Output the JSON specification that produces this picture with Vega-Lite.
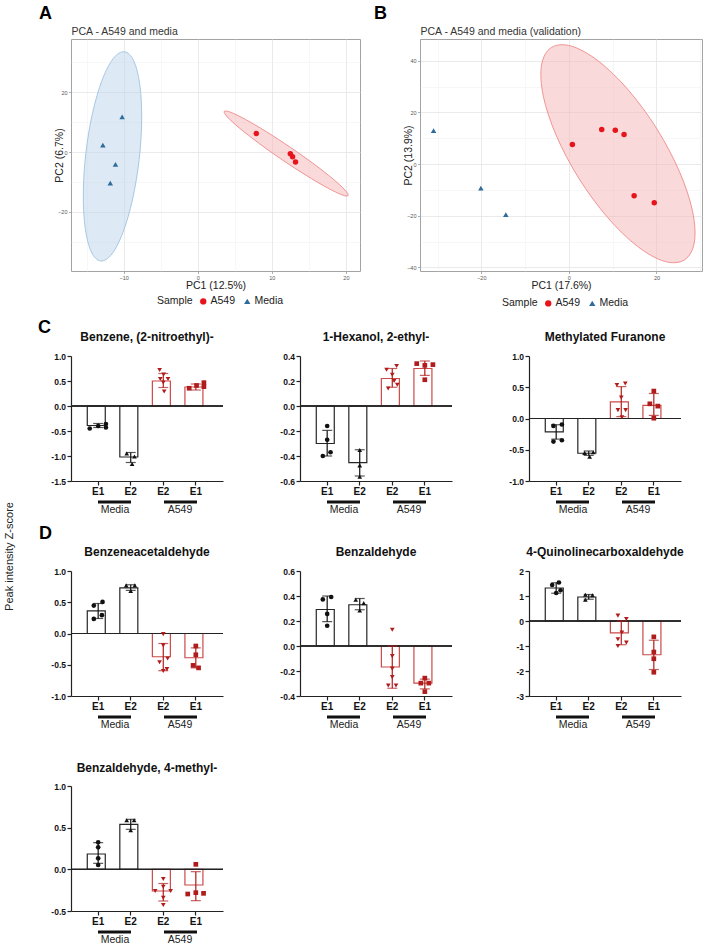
{
"$schema":"https://vega.github.io/schema/vega-lite/v6.json",
"background":"white",
"padding":{"left":3,"top":4,"right":2,"bottom":0},
"config":{"font":"Liberation Sans","view":{"stroke":null}},
"datasets":{
"pca":[
{"pc":"A","s":"A549","x":7.9,"y":6.2},{"pc":"A","s":"A549","x":12.5,"y":-0.6},{"pc":"A","s":"A549","x":12.8,"y":-1.6},{"pc":"A","s":"A549","x":13.2,"y":-3.3},
{"pc":"A","s":"Media","x":-10.2,"y":11.7},{"pc":"A","s":"Media","x":-12.8,"y":2.3},{"pc":"A","s":"Media","x":-11.1,"y":-4.1},{"pc":"A","s":"Media","x":-11.8,"y":-10.4},
{"pc":"B","s":"A549","x":0.8,"y":7.6},{"pc":"B","s":"A549","x":7.5,"y":13.4},{"pc":"B","s":"A549","x":10.6,"y":13.1},{"pc":"B","s":"A549","x":12.6,"y":11.4},{"pc":"B","s":"A549","x":14.9,"y":-12.3},{"pc":"B","s":"A549","x":19.5,"y":-15.0},
{"pc":"B","s":"Media","x":-30.9,"y":12.9},{"pc":"B","s":"Media","x":-20.1,"y":-9.3},{"pc":"B","s":"Media","x":-14.4,"y":-19.6}
],
"ell":[
{"pc":"A","s":"Media","i":0,"x":-9.9,"y":33.45},{"pc":"A","s":"Media","i":1,"x":-8.64,"y":30.42},{"pc":"A","s":"Media","i":2,"x":-7.82,"y":22.51},{"pc":"A","s":"Media","i":3,"x":-7.56,"y":11.0},
{"pc":"A","s":"Media","i":4,"x":-7.9,"y":-2.45},{"pc":"A","s":"Media","i":5,"x":-8.79,"y":-15.74},{"pc":"A","s":"Media","i":6,"x":-10.09,"y":-26.83},{"pc":"A","s":"Media","i":7,"x":-11.6,"y":-34.08},
{"pc":"A","s":"Media","i":8,"x":-13.1,"y":-36.35},{"pc":"A","s":"Media","i":9,"x":-14.36,"y":-33.32},{"pc":"A","s":"Media","i":10,"x":-15.18,"y":-25.41},{"pc":"A","s":"Media","i":11,"x":-15.44,"y":-13.9},
{"pc":"A","s":"Media","i":12,"x":-15.1,"y":-0.45},{"pc":"A","s":"Media","i":13,"x":-14.21,"y":12.84},{"pc":"A","s":"Media","i":14,"x":-12.91,"y":23.93},{"pc":"A","s":"Media","i":15,"x":-11.4,"y":31.18},
{"pc":"A","s":"A549","i":0,"x":3.58,"y":13.55},{"pc":"A","s":"A549","i":1,"x":4.44,"y":13.27},{"pc":"A","s":"A549","i":2,"x":6.43,"y":10.88},{"pc":"A","s":"A549","i":3,"x":9.27,"y":6.77},
{"pc":"A","s":"A549","i":4,"x":12.51,"y":1.55},{"pc":"A","s":"A549","i":5,"x":15.67,"y":-3.99},{"pc":"A","s":"A549","i":6,"x":18.25,"y":-8.98},{"pc":"A","s":"A549","i":7,"x":19.88,"y":-12.7},
{"pc":"A","s":"A549","i":8,"x":20.3,"y":-14.55},{"pc":"A","s":"A549","i":9,"x":19.44,"y":-14.27},{"pc":"A","s":"A549","i":10,"x":17.45,"y":-11.88},{"pc":"A","s":"A549","i":11,"x":14.61,"y":-7.77},
{"pc":"A","s":"A549","i":12,"x":11.37,"y":-2.55},{"pc":"A","s":"A549","i":13,"x":8.21,"y":2.99},{"pc":"A","s":"A549","i":14,"x":5.63,"y":7.98},{"pc":"A","s":"A549","i":15,"x":4.0,"y":11.7},
{"pc":"B","s":"A549","i":0,"x":26.4,"y":-37.1},{"pc":"B","s":"A549","i":1,"x":28.65,"y":-30.3},{"pc":"B","s":"A549","i":2,"x":28.24,"y":-18.27},{"pc":"B","s":"A549","i":3,"x":25.24,"y":-2.87},
{"pc":"B","s":"A549","i":4,"x":20.1,"y":13.6},{"pc":"B","s":"A549","i":5,"x":13.6,"y":28.61},{"pc":"B","s":"A549","i":6,"x":6.74,"y":39.85},{"pc":"B","s":"A549","i":7,"x":0.57,"y":45.66},
{"pc":"B","s":"A549","i":8,"x":-4.0,"y":45.1},{"pc":"B","s":"A549","i":9,"x":-6.25,"y":38.3},{"pc":"B","s":"A549","i":10,"x":-5.84,"y":26.27},{"pc":"B","s":"A549","i":11,"x":-2.84,"y":10.87},
{"pc":"B","s":"A549","i":12,"x":2.3,"y":-5.6},{"pc":"B","s":"A549","i":13,"x":8.8,"y":-20.61},{"pc":"B","s":"A549","i":14,"x":15.66,"y":-31.85},{"pc":"B","s":"A549","i":15,"x":21.83,"y":-37.66}
],
"grp":[{"g":"Media"},{"g":"A549"}],
"bars":[
{"p":"C1","c":"Media E1","g":"Media","m":-0.39,"lo":-0.43,"hi":-0.35},{"p":"C1","c":"Media E2","g":"Media","m":-1.02,"lo":-1.13,"hi":-0.93},{"p":"C1","c":"A549 E2","g":"A549","m":0.5,"lo":0.37,"hi":0.65},{"p":"C1","c":"A549 E1","g":"A549","m":0.38,"lo":0.32,"hi":0.44},
{"p":"C2","c":"Media E1","g":"Media","m":-0.3,"lo":-0.4,"hi":-0.195},{"p":"C2","c":"Media E2","g":"Media","m":-0.453,"lo":-0.56,"hi":-0.35},{"p":"C2","c":"A549 E2","g":"A549","m":0.22,"lo":0.15,"hi":0.3},{"p":"C2","c":"A549 E1","g":"A549","m":0.3,"lo":0.245,"hi":0.36},
{"p":"C3","c":"Media E1","g":"Media","m":-0.214,"lo":-0.33,"hi":-0.1},{"p":"C3","c":"Media E2","g":"Media","m":-0.556,"lo":-0.59,"hi":-0.52},{"p":"C3","c":"A549 E2","g":"A549","m":0.267,"lo":0.03,"hi":0.51},{"p":"C3","c":"A549 E1","g":"A549","m":0.209,"lo":0.05,"hi":0.4},
{"p":"D1","c":"Media E1","g":"Media","m":0.362,"lo":0.24,"hi":0.48},{"p":"D1","c":"Media E2","g":"Media","m":0.73,"lo":0.69,"hi":0.78},{"p":"D1","c":"A549 E2","g":"A549","m":-0.372,"lo":-0.595,"hi":-0.16},{"p":"D1","c":"A549 E1","g":"A549","m":-0.388,"lo":-0.55,"hi":-0.23},
{"p":"D2","c":"Media E1","g":"Media","m":0.292,"lo":0.195,"hi":0.4},{"p":"D2","c":"Media E2","g":"Media","m":0.33,"lo":0.29,"hi":0.38},{"p":"D2","c":"A549 E2","g":"A549","m":-0.168,"lo":-0.338,"hi":0.0},{"p":"D2","c":"A549 E1","g":"A549","m":-0.297,"lo":-0.343,"hi":-0.265},
{"p":"D3","c":"Media E1","g":"Media","m":1.32,"lo":1.11,"hi":1.53},{"p":"D3","c":"Media E2","g":"Media","m":0.96,"lo":0.87,"hi":1.06},{"p":"D3","c":"A549 E2","g":"A549","m":-0.473,"lo":-0.95,"hi":0.0},{"p":"D3","c":"A549 E1","g":"A549","m":-1.35,"lo":-1.94,"hi":-0.77},
{"p":"D4","c":"Media E1","g":"Media","m":0.184,"lo":0.072,"hi":0.32},{"p":"D4","c":"Media E2","g":"Media","m":0.54,"lo":0.48,"hi":0.6},{"p":"D4","c":"A549 E2","g":"A549","m":-0.26,"lo":-0.38,"hi":-0.17},{"p":"D4","c":"A549 E1","g":"A549","m":-0.188,"lo":-0.376,"hi":-0.028}
],
"pts":[
{"p":"C1","c":"Media E1","g":"Media","v":-0.45,"d":-0.93},{"p":"C1","c":"Media E1","g":"Media","v":-0.4,"d":0},{"p":"C1","c":"Media E1","g":"Media","v":-0.36,"d":0.85},{"p":"C1","c":"Media E1","g":"Media","v":-0.43,"d":0.85},
{"p":"C1","c":"Media E2","g":"Media","v":-0.95,"d":-0.44},{"p":"C1","c":"Media E2","g":"Media","v":-1.01,"d":0.41},{"p":"C1","c":"Media E2","g":"Media","v":-1.16,"d":0.15},
{"p":"C1","c":"A549 E2","g":"A549","v":0.72,"d":-0.4},{"p":"C1","c":"A549 E2","g":"A549","v":0.63,"d":0.04},{"p":"C1","c":"A549 E2","g":"A549","v":0.54,"d":-0.33},{"p":"C1","c":"A549 E2","g":"A549","v":0.54,"d":0.52},{"p":"C1","c":"A549 E2","g":"A549","v":0.47,"d":0},{"p":"C1","c":"A549 E2","g":"A549","v":0.29,"d":0.1},
{"p":"C1","c":"A549 E1","g":"A549","v":0.355,"d":-0.73},{"p":"C1","c":"A549 E1","g":"A549","v":0.41,"d":0.08},{"p":"C1","c":"A549 E1","g":"A549","v":0.467,"d":0.89},{"p":"C1","c":"A549 E1","g":"A549","v":0.387,"d":0.89},
{"p":"C2","c":"Media E1","g":"Media","v":-0.16,"d":0},{"p":"C2","c":"Media E1","g":"Media","v":-0.27,"d":0},{"p":"C2","c":"Media E1","g":"Media","v":-0.37,"d":0.37},{"p":"C2","c":"Media E1","g":"Media","v":-0.4,"d":-0.48},
{"p":"C2","c":"Media E2","g":"Media","v":-0.352,"d":0},{"p":"C2","c":"Media E2","g":"Media","v":-0.475,"d":0},{"p":"C2","c":"Media E2","g":"Media","v":-0.565,"d":0},
{"p":"C2","c":"A549 E2","g":"A549","v":0.29,"d":-0.63},{"p":"C2","c":"A549 E2","g":"A549","v":0.32,"d":0.48},{"p":"C2","c":"A549 E2","g":"A549","v":0.25,"d":0},{"p":"C2","c":"A549 E2","g":"A549","v":0.17,"d":0.55},{"p":"C2","c":"A549 E2","g":"A549","v":0.14,"d":-0.45},{"p":"C2","c":"A549 E2","g":"A549","v":0.2,"d":0.2},
{"p":"C2","c":"A549 E1","g":"A549","v":0.339,"d":-0.89},{"p":"C2","c":"A549 E1","g":"A549","v":0.325,"d":0},{"p":"C2","c":"A549 E1","g":"A549","v":0.331,"d":0.89},{"p":"C2","c":"A549 E1","g":"A549","v":0.21,"d":0},
{"p":"C3","c":"Media E1","g":"Media","v":-0.118,"d":-0.3},{"p":"C3","c":"Media E1","g":"Media","v":-0.096,"d":0.63},{"p":"C3","c":"Media E1","g":"Media","v":-0.369,"d":-0.3},{"p":"C3","c":"Media E1","g":"Media","v":-0.348,"d":0.63},
{"p":"C3","c":"Media E2","g":"Media","v":-0.55,"d":-0.45},{"p":"C3","c":"Media E2","g":"Media","v":-0.61,"d":0.1},{"p":"C3","c":"Media E2","g":"Media","v":-0.54,"d":0.5},
{"p":"C3","c":"A549 E2","g":"A549","v":0.535,"d":-0.48},{"p":"C3","c":"A549 E2","g":"A549","v":0.56,"d":0.44},{"p":"C3","c":"A549 E2","g":"A549","v":0.337,"d":0},{"p":"C3","c":"A549 E2","g":"A549","v":0.134,"d":-0.37},{"p":"C3","c":"A549 E2","g":"A549","v":0.134,"d":0.48},{"p":"C3","c":"A549 E2","g":"A549","v":0.02,"d":0.07},
{"p":"C3","c":"A549 E1","g":"A549","v":0.439,"d":0},{"p":"C3","c":"A549 E1","g":"A549","v":0.235,"d":-0.44},{"p":"C3","c":"A549 E1","g":"A549","v":0.198,"d":0.44},{"p":"C3","c":"A549 E1","g":"A549","v":0.005,"d":0},
{"p":"D1","c":"Media E1","g":"Media","v":0.505,"d":0.48},{"p":"D1","c":"Media E1","g":"Media","v":0.447,"d":-0.48},{"p":"D1","c":"Media E1","g":"Media","v":0.293,"d":0.41},{"p":"D1","c":"Media E1","g":"Media","v":0.234,"d":-0.48},
{"p":"D1","c":"Media E2","g":"Media","v":0.77,"d":-0.5},{"p":"D1","c":"Media E2","g":"Media","v":0.77,"d":0.45},{"p":"D1","c":"Media E2","g":"Media","v":0.68,"d":0},
{"p":"D1","c":"A549 E2","g":"A549","v":-0.01,"d":0},{"p":"D1","c":"A549 E2","g":"A549","v":-0.19,"d":0},{"p":"D1","c":"A549 E2","g":"A549","v":-0.4,"d":0.48},{"p":"D1","c":"A549 E2","g":"A549","v":-0.46,"d":-0.41},{"p":"D1","c":"A549 E2","g":"A549","v":-0.57,"d":0.4},{"p":"D1","c":"A549 E2","g":"A549","v":-0.6,"d":0},
{"p":"D1","c":"A549 E1","g":"A549","v":-0.2,"d":0},{"p":"D1","c":"A549 E1","g":"A549","v":-0.34,"d":0},{"p":"D1","c":"A549 E1","g":"A549","v":-0.51,"d":-0.3},{"p":"D1","c":"A549 E1","g":"A549","v":-0.55,"d":0.3},
{"p":"D2","c":"Media E1","g":"Media","v":0.373,"d":-0.48},{"p":"D2","c":"Media E1","g":"Media","v":0.392,"d":0.44},{"p":"D2","c":"Media E1","g":"Media","v":0.257,"d":0},{"p":"D2","c":"Media E1","g":"Media","v":0.162,"d":0},
{"p":"D2","c":"Media E2","g":"Media","v":0.37,"d":-0.44},{"p":"D2","c":"Media E2","g":"Media","v":0.343,"d":0.44},{"p":"D2","c":"Media E2","g":"Media","v":0.284,"d":0},
{"p":"D2","c":"A549 E2","g":"A549","v":0.13,"d":0},{"p":"D2","c":"A549 E2","g":"A549","v":-0.081,"d":0},{"p":"D2","c":"A549 E2","g":"A549","v":-0.181,"d":0},{"p":"D2","c":"A549 E2","g":"A549","v":-0.249,"d":0},{"p":"D2","c":"A549 E2","g":"A549","v":-0.316,"d":-0.44},{"p":"D2","c":"A549 E2","g":"A549","v":-0.316,"d":0.41},
{"p":"D2","c":"A549 E1","g":"A549","v":-0.257,"d":0},{"p":"D2","c":"A549 E1","g":"A549","v":-0.297,"d":-0.44},{"p":"D2","c":"A549 E1","g":"A549","v":-0.297,"d":0.44},{"p":"D2","c":"A549 E1","g":"A549","v":-0.365,"d":0},
{"p":"D3","c":"Media E1","g":"Media","v":1.54,"d":0.3},{"p":"D3","c":"Media E1","g":"Media","v":1.44,"d":-0.44},{"p":"D3","c":"Media E1","g":"Media","v":1.23,"d":0.48},{"p":"D3","c":"Media E1","g":"Media","v":1.12,"d":0},
{"p":"D3","c":"Media E2","g":"Media","v":1.05,"d":-0.37},{"p":"D3","c":"Media E2","g":"Media","v":1.03,"d":0.41},{"p":"D3","c":"Media E2","g":"Media","v":0.85,"d":-0.37},
{"p":"D3","c":"A549 E2","g":"A549","v":0.216,"d":-0.37},{"p":"D3","c":"A549 E2","g":"A549","v":0.08,"d":0.56},{"p":"D3","c":"A549 E2","g":"A549","v":-0.46,"d":0.07},{"p":"D3","c":"A549 E2","g":"A549","v":-0.73,"d":-0.37},{"p":"D3","c":"A549 E2","g":"A549","v":-0.865,"d":0.56},{"p":"D3","c":"A549 E2","g":"A549","v":-1.0,"d":-0.37},
{"p":"D3","c":"A549 E1","g":"A549","v":-0.635,"d":0},{"p":"D3","c":"A549 E1","g":"A549","v":-1.24,"d":0},{"p":"D3","c":"A549 E1","g":"A549","v":-1.51,"d":0},{"p":"D3","c":"A549 E1","g":"A549","v":-2.05,"d":0},
{"p":"D4","c":"Media E1","g":"Media","v":0.324,"d":0},{"p":"D4","c":"Media E1","g":"Media","v":0.264,"d":0},{"p":"D4","c":"Media E1","g":"Media","v":0.132,"d":0},{"p":"D4","c":"Media E1","g":"Media","v":0.052,"d":0},
{"p":"D4","c":"Media E2","g":"Media","v":0.59,"d":-0.44},{"p":"D4","c":"Media E2","g":"Media","v":0.59,"d":0.37},{"p":"D4","c":"Media E2","g":"Media","v":0.47,"d":0},
{"p":"D4","c":"A549 E2","g":"A549","v":-0.116,"d":0},{"p":"D4","c":"A549 E2","g":"A549","v":-0.208,"d":0},{"p":"D4","c":"A549 E2","g":"A549","v":-0.26,"d":-0.89},{"p":"D4","c":"A549 E2","g":"A549","v":-0.26,"d":0.81},{"p":"D4","c":"A549 E2","g":"A549","v":-0.34,"d":0},{"p":"D4","c":"A549 E2","g":"A549","v":-0.428,"d":0},
{"p":"D4","c":"A549 E1","g":"A549","v":0.06,"d":0},{"p":"D4","c":"A549 E1","g":"A549","v":-0.296,"d":-0.89},{"p":"D4","c":"A549 E1","g":"A549","v":-0.28,"d":0},{"p":"D4","c":"A549 E1","g":"A549","v":-0.288,"d":0.85}
]
},
"spacing":8,
"vconcat":[
{"hconcat":[
{"width":289,"height":232,"view":{"stroke":"#a3a3a3","strokeWidth":1},
 "title":{"text":"A","anchor":"start","frame":"group","dx":-32,"fontSize":18,"fontWeight":"bold","color":"#000","offset":3},
 "layer":[
  {"data":{"name":"ell"},"transform":[{"filter":"datum.pc == 'A' && datum.s == 'Media'"}],
   "mark":{"type":"line","interpolate":"cardinal-closed","strokeWidth":0.9,"fill":"#bcd6ec","fillOpacity":0.5,"stroke":"#9fc2df"},
   "encoding":{
    "x":{"field":"x","type":"quantitative","scale":{"domain":[-17.1,21.9],"nice":false,"zero":false},"axis":{"orient":"bottom","values":[-10,0,10,20],"tickCount":10,"grid":true,"gridColor":"#e4e4e4","gridWidth":0.8,"domain":false,"tickSize":2.5,"tickColor":"#777","tickWidth":0.6,"labelFontSize":5.5,"labelColor":"#555","labelPadding":1.5,"title":"PC1 (12.5%)","titleFontSize":10.5,"titleFontWeight":"normal","titleColor":"#222","titlePadding":0}},
    "y":{"field":"y","type":"quantitative","scale":{"domain":[-39.7,37.7],"nice":false,"zero":false},"axis":{"orient":"left","values":[-20,0,20],"tickCount":10,"grid":true,"gridColor":"#e4e4e4","gridWidth":0.8,"domain":false,"tickSize":2.5,"tickColor":"#777","tickWidth":0.6,"labelFontSize":5.5,"labelColor":"#555","labelPadding":1.5,"title":"PC2 (6.7%)","titleFontSize":10.5,"titleFontWeight":"normal","titleColor":"#222","titlePadding":-7}},
    "order":{"field":"i","type":"quantitative"}
   }},
  {"data":{"name":"ell"},"transform":[{"filter":"datum.pc == 'A' && datum.s == 'A549'"}],
   "mark":{"type":"line","interpolate":"cardinal-closed","strokeWidth":0.9,"fill":"#f3b3b3","fillOpacity":0.5,"stroke":"#ee8a8a"},
   "encoding":{
    "x":{"field":"x","type":"quantitative","axis":null},
    "y":{"field":"y","type":"quantitative","axis":null},
    "order":{"field":"i","type":"quantitative"}
   }},
  {"data":{"name":"pca"},"transform":[{"filter":{"field":"pc","equal":"A"}}],
   "mark":{"type":"point","filled":true,"size":30,"opacity":1},
   "encoding":{
    "x":{"field":"x","type":"quantitative","axis":{"orient":"top","values":[-15,-5,5,15],"tickCount":10,"grid":true,"gridColor":"#efefef","gridWidth":0.5,"domain":false,"ticks":false,"labels":false,"title":"PCA - A549 and media","titleAnchor":"start","titleFontSize":10.5,"titleFontWeight":"normal","titleColor":"#333","titlePadding":3}},
    "y":{"field":"y","type":"quantitative","axis":{"orient":"right","values":[-30,-10,10,30],"tickCount":10,"grid":true,"gridColor":"#efefef","gridWidth":0.5,"domain":false,"ticks":false,"labels":false,"title":null}},
    "color":{"field":"s","type":"nominal","title":"Sample","scale":{"domain":["A549","Media"],"range":["#e8141b","#2f6b9b"]},"legend":{"orient":"none","legendX":86,"legendY":257,"direction":"horizontal","titleOrient":"left","titleFontSize":10.5,"titleFontWeight":"normal","titleColor":"#222","labelFontSize":10.5,"labelColor":"#222","symbolSize":40,"titlePadding":5,"columnPadding":6,"labelOffset":2}},
    "shape":{"field":"s","type":"nominal","title":"Sample","scale":{"domain":["A549","Media"],"range":["circle","triangle-up"]},"legend":{"orient":"none","legendX":86,"legendY":257,"direction":"horizontal","titleOrient":"left","titleFontSize":10.5,"titleFontWeight":"normal","titleColor":"#222","labelFontSize":10.5,"labelColor":"#222","symbolSize":40,"titlePadding":5,"columnPadding":6,"labelOffset":2}}
   }}
 ],
 "resolve":{"axis":{"x":"independent","y":"independent"}}
},
{"width":282,"height":232,"view":{"stroke":"#a3a3a3","strokeWidth":1},
 "title":{"text":"B","anchor":"start","frame":"group","dx":-46,"fontSize":18,"fontWeight":"bold","color":"#000","offset":3},
 "layer":[
  {"data":{"name":"ell"},"transform":[{"filter":"datum.pc == 'B' && datum.s == 'A549'"}],
   "mark":{"type":"line","interpolate":"cardinal-closed","strokeWidth":0.9,"fill":"#f3b3b3","fillOpacity":0.5,"stroke":"#ee8a8a"},
   "encoding":{
    "x":{"field":"x","type":"quantitative","scale":{"domain":[-34.0,30.4],"nice":false,"zero":false},"axis":{"orient":"bottom","values":[-20,0,20],"tickCount":10,"grid":true,"gridColor":"#e4e4e4","gridWidth":0.8,"domain":false,"tickSize":2.5,"tickColor":"#777","tickWidth":0.6,"labelFontSize":5.5,"labelColor":"#555","labelPadding":1.5,"title":"PC1 (17.6%)","titleFontSize":10.5,"titleFontWeight":"normal","titleColor":"#222","titlePadding":0}},
    "y":{"field":"y","type":"quantitative","scale":{"domain":[-41.4,48.4],"nice":false,"zero":false},"axis":{"orient":"left","values":[-40,-20,0,20,40],"tickCount":10,"grid":true,"gridColor":"#e4e4e4","gridWidth":0.8,"domain":false,"tickSize":2.5,"tickColor":"#777","tickWidth":0.6,"labelFontSize":5.5,"labelColor":"#555","labelPadding":1.5,"title":"PC2 (13.9%)","titleFontSize":10.5,"titleFontWeight":"normal","titleColor":"#222","titlePadding":-7}},
    "order":{"field":"i","type":"quantitative"}
   }},
  {"data":{"name":"pca"},"transform":[{"filter":{"field":"pc","equal":"B"}}],
   "mark":{"type":"point","filled":true,"size":30,"opacity":1},
   "encoding":{
    "x":{"field":"x","type":"quantitative","axis":{"orient":"top","values":[-30,-10,10,30],"tickCount":10,"grid":true,"gridColor":"#efefef","gridWidth":0.5,"domain":false,"ticks":false,"labels":false,"title":"PCA - A549 and media (validation)","titleAnchor":"start","titleFontSize":10.5,"titleFontWeight":"normal","titleColor":"#333","titlePadding":3}},
    "y":{"field":"y","type":"quantitative","axis":{"orient":"right","values":[-30,-10,10,30],"tickCount":10,"grid":true,"gridColor":"#efefef","gridWidth":0.5,"domain":false,"ticks":false,"labels":false,"title":null}},
    "color":{"field":"s","type":"nominal","title":"Sample","scale":{"domain":["A549","Media"],"range":["#e8141b","#2f6b9b"]},"legend":{"orient":"none","legendX":82,"legendY":259,"direction":"horizontal","titleOrient":"left","titleFontSize":10.5,"titleFontWeight":"normal","titleColor":"#222","labelFontSize":10.5,"labelColor":"#222","symbolSize":40,"titlePadding":5,"columnPadding":6,"labelOffset":2}},
    "shape":{"field":"s","type":"nominal","title":"Sample","scale":{"domain":["A549","Media"],"range":["circle","triangle-up"]},"legend":{"orient":"none","legendX":82,"legendY":259,"direction":"horizontal","titleOrient":"left","titleFontSize":10.5,"titleFontWeight":"normal","titleColor":"#222","labelFontSize":10.5,"labelColor":"#222","symbolSize":40,"titlePadding":5,"columnPadding":6,"labelOffset":2}}
   }}
 ],
 "resolve":{"axis":{"x":"independent","y":"independent"}}
}
],"spacing":60,"bounds":"flush","resolve":{"scale":{"color":"independent","shape":"independent"}}},
{"concat":[
{"width":152,"height":125,"title":{"text":"Benzene, (2-nitroethyl)-","fontSize":12,"fontWeight":"bold","color":"#111","frame":"group","offset":-26},
 "layer":[
  {"layer":[
   {"data":{"name":"bars"},"transform":[{"filter":{"field":"p","equal":"C1"}}],"mark":{"type":"bar","fill":"#ffffff","strokeWidth":1.2},
    "encoding":{
     "x":{"field":"c","type":"nominal","scale":{"domain":["Media E1","Media E2","A549 E2","A549 E1"],"paddingInner":0.33,"paddingOuter":0.5},"axis":{"labelExpr":"split(datum.value,' ')[1]","labelAngle":0,"labelFontSize":10,"labelFontWeight":"bold","labelColor":"#111","labelPadding":1,"tickSize":4,"tickWidth":1.2,"tickColor":"#222","domainColor":"#222","domainWidth":1.2,"grid":false,"title":null}},
     "y":{"field":"m","type":"quantitative","title":"C","scale":{"domain":[-1.5,1],"nice":false,"zero":false},"axis":{"values":[-1.5,-1,-0.5,0,0.5,1],"tickCount":20,"labelOverlap":false,"labelExpr":"replace(format(datum.value,'.1f'),'\u2212','-')","labelFontSize":8.5,"labelFontWeight":"bold","labelColor":"#111","labelPadding":1.5,"tickSize":4,"tickWidth":1.2,"tickColor":"#222","domainColor":"#222","domainWidth":1.2,"grid":false,"title":"C","titleAngle":0,"titleX":-27,"titleY":-29,"titleFontSize":18,"titleFontWeight":"bold","titleColor":"#000","titleAlign":"center","titleBaseline":"middle"}},
     "y2":{"datum":0},
     "stroke":{"field":"g","type":"nominal","scale":{"domain":["Media","A549"],"range":["#262626","#cc4a4a"]},"legend":null}}},
   {"data":{"name":"bars"},"transform":[{"filter":{"field":"p","equal":"C1"}}],"mark":{"type":"rule","color":"#222","strokeWidth":1},"encoding":{"y":{"datum":0}}},
   {"data":{"name":"bars"},"transform":[{"filter":{"field":"p","equal":"C1"}}],"mark":{"type":"errorbar","ticks":true,"size":10,"thickness":1.2},
    "encoding":{"x":{"field":"c","type":"nominal"},"y":{"field":"lo","type":"quantitative","title":"C"},"y2":{"field":"hi"},"color":{"field":"g","type":"nominal","scale":{"domain":["Media","A549"],"range":["#111111","#b01c1c"]},"legend":null}}},
   {"data":{"name":"pts"},"transform":[{"filter":{"field":"p","equal":"C1"}}],"mark":{"type":"point","filled":true,"size":22,"opacity":1},
    "encoding":{"x":{"field":"c","type":"nominal"},"xOffset":{"field":"d","type":"quantitative","scale":{"domain":[-1.2,1.2]}},"y":{"field":"v","type":"quantitative","title":"C"},"color":{"field":"g","type":"nominal","legend":null},"shape":{"field":"c","type":"nominal","scale":{"domain":["Media E1","Media E2","A549 E2","A549 E1"],"range":["circle","triangle-up","triangle-down","square"]},"legend":null}}}
  ]},
  {"data":{"name":"grp"},"mark":{"type":"point","opacity":0},"encoding":{"x":{"field":"g","type":"nominal","scale":{"type":"point","domain":["Media","A549"],"padding":0.668},"axis":{"orient":"bottom","offset":19,"domain":false,"tickSize":3,"tickWidth":33,"tickColor":"#111","labelAngle":0,"labelFontSize":10.5,"labelColor":"#222","labelPadding":1,"grid":false,"title":null}}}}
 ],
 "resolve":{"scale":{"x":"independent"}}},
{"width":152,"height":125,"title":{"text":"1-Hexanol, 2-ethyl-","fontSize":12,"fontWeight":"bold","color":"#111","frame":"group","offset":8},
 "layer":[
  {"layer":[
   {"data":{"name":"bars"},"transform":[{"filter":{"field":"p","equal":"C2"}}],"mark":{"type":"bar","fill":"#ffffff","strokeWidth":1.2},
    "encoding":{
     "x":{"field":"c","type":"nominal","scale":{"domain":["Media E1","Media E2","A549 E2","A549 E1"],"paddingInner":0.33,"paddingOuter":0.5},"axis":{"labelExpr":"split(datum.value,' ')[1]","labelAngle":0,"labelFontSize":10,"labelFontWeight":"bold","labelColor":"#111","labelPadding":1,"tickSize":4,"tickWidth":1.2,"tickColor":"#222","domainColor":"#222","domainWidth":1.2,"grid":false,"title":null}},
     "y":{"field":"m","type":"quantitative","title":null,"scale":{"domain":[-0.6,0.4],"nice":false,"zero":false},"axis":{"values":[-0.6,-0.4,-0.2,0,0.2,0.4],"tickCount":20,"labelOverlap":false,"labelExpr":"replace(format(datum.value,'.1f'),'\u2212','-')","labelFontSize":8.5,"labelFontWeight":"bold","labelColor":"#111","labelPadding":1.5,"tickSize":4,"tickWidth":1.2,"tickColor":"#222","domainColor":"#222","domainWidth":1.2,"grid":false,"title":null}},
     "y2":{"datum":0},
     "stroke":{"field":"g","type":"nominal","scale":{"domain":["Media","A549"],"range":["#262626","#cc4a4a"]},"legend":null}}},
   {"data":{"name":"bars"},"transform":[{"filter":{"field":"p","equal":"C2"}}],"mark":{"type":"rule","color":"#222","strokeWidth":1},"encoding":{"y":{"datum":0}}},
   {"data":{"name":"bars"},"transform":[{"filter":{"field":"p","equal":"C2"}}],"mark":{"type":"errorbar","ticks":true,"size":10,"thickness":1.2},
    "encoding":{"x":{"field":"c","type":"nominal"},"y":{"field":"lo","type":"quantitative","title":null},"y2":{"field":"hi"},"color":{"field":"g","type":"nominal","scale":{"domain":["Media","A549"],"range":["#111111","#b01c1c"]},"legend":null}}},
   {"data":{"name":"pts"},"transform":[{"filter":{"field":"p","equal":"C2"}}],"mark":{"type":"point","filled":true,"size":22,"opacity":1},
    "encoding":{"x":{"field":"c","type":"nominal"},"xOffset":{"field":"d","type":"quantitative","scale":{"domain":[-1.2,1.2]}},"y":{"field":"v","type":"quantitative","title":null},"color":{"field":"g","type":"nominal","legend":null},"shape":{"field":"c","type":"nominal","scale":{"domain":["Media E1","Media E2","A549 E2","A549 E1"],"range":["circle","triangle-up","triangle-down","square"]},"legend":null}}}
  ]},
  {"data":{"name":"grp"},"mark":{"type":"point","opacity":0},"encoding":{"x":{"field":"g","type":"nominal","scale":{"type":"point","domain":["Media","A549"],"padding":0.668},"axis":{"orient":"bottom","offset":19,"domain":false,"tickSize":3,"tickWidth":33,"tickColor":"#111","labelAngle":0,"labelFontSize":10.5,"labelColor":"#222","labelPadding":1,"grid":false,"title":null}}}}
 ],
 "resolve":{"scale":{"x":"independent"}}},
{"width":152,"height":125,"title":{"text":"Methylated Furanone","fontSize":12,"fontWeight":"bold","color":"#111","frame":"group","offset":8},
 "layer":[
  {"layer":[
   {"data":{"name":"bars"},"transform":[{"filter":{"field":"p","equal":"C3"}}],"mark":{"type":"bar","fill":"#ffffff","strokeWidth":1.2},
    "encoding":{
     "x":{"field":"c","type":"nominal","scale":{"domain":["Media E1","Media E2","A549 E2","A549 E1"],"paddingInner":0.33,"paddingOuter":0.5},"axis":{"labelExpr":"split(datum.value,' ')[1]","labelAngle":0,"labelFontSize":10,"labelFontWeight":"bold","labelColor":"#111","labelPadding":1,"tickSize":4,"tickWidth":1.2,"tickColor":"#222","domainColor":"#222","domainWidth":1.2,"grid":false,"title":null}},
     "y":{"field":"m","type":"quantitative","title":null,"scale":{"domain":[-1,1],"nice":false,"zero":false},"axis":{"values":[-1,-0.5,0,0.5,1],"tickCount":20,"labelOverlap":false,"labelExpr":"replace(format(datum.value,'.1f'),'\u2212','-')","labelFontSize":8.5,"labelFontWeight":"bold","labelColor":"#111","labelPadding":1.5,"tickSize":4,"tickWidth":1.2,"tickColor":"#222","domainColor":"#222","domainWidth":1.2,"grid":false,"title":null}},
     "y2":{"datum":0},
     "stroke":{"field":"g","type":"nominal","scale":{"domain":["Media","A549"],"range":["#262626","#cc4a4a"]},"legend":null}}},
   {"data":{"name":"bars"},"transform":[{"filter":{"field":"p","equal":"C3"}}],"mark":{"type":"rule","color":"#222","strokeWidth":1},"encoding":{"y":{"datum":0}}},
   {"data":{"name":"bars"},"transform":[{"filter":{"field":"p","equal":"C3"}}],"mark":{"type":"errorbar","ticks":true,"size":10,"thickness":1.2},
    "encoding":{"x":{"field":"c","type":"nominal"},"y":{"field":"lo","type":"quantitative","title":null},"y2":{"field":"hi"},"color":{"field":"g","type":"nominal","scale":{"domain":["Media","A549"],"range":["#111111","#b01c1c"]},"legend":null}}},
   {"data":{"name":"pts"},"transform":[{"filter":{"field":"p","equal":"C3"}}],"mark":{"type":"point","filled":true,"size":22,"opacity":1},
    "encoding":{"x":{"field":"c","type":"nominal"},"xOffset":{"field":"d","type":"quantitative","scale":{"domain":[-1.2,1.2]}},"y":{"field":"v","type":"quantitative","title":null},"color":{"field":"g","type":"nominal","legend":null},"shape":{"field":"c","type":"nominal","scale":{"domain":["Media E1","Media E2","A549 E2","A549 E1"],"range":["circle","triangle-up","triangle-down","square"]},"legend":null}}}
  ]},
  {"data":{"name":"grp"},"mark":{"type":"point","opacity":0},"encoding":{"x":{"field":"g","type":"nominal","scale":{"type":"point","domain":["Media","A549"],"padding":0.668},"axis":{"orient":"bottom","offset":19,"domain":false,"tickSize":3,"tickWidth":33,"tickColor":"#111","labelAngle":0,"labelFontSize":10.5,"labelColor":"#222","labelPadding":1,"grid":false,"title":null}}}}
 ],
 "resolve":{"scale":{"x":"independent"}}},
{"width":152,"height":125,"title":{"text":"Benzeneacetaldehyde","fontSize":12,"fontWeight":"bold","color":"#111","frame":"group","offset":-35},
 "layer":[
  {"layer":[
   {"data":{"name":"bars"},"transform":[{"filter":{"field":"p","equal":"D1"}}],"mark":{"type":"bar","fill":"#ffffff","strokeWidth":1.2},
    "encoding":{
     "x":{"field":"c","type":"nominal","scale":{"domain":["Media E1","Media E2","A549 E2","A549 E1"],"paddingInner":0.33,"paddingOuter":0.5},"axis":{"labelExpr":"split(datum.value,' ')[1]","labelAngle":0,"labelFontSize":10,"labelFontWeight":"bold","labelColor":"#111","labelPadding":1,"tickSize":4,"tickWidth":1.2,"tickColor":"#222","domainColor":"#222","domainWidth":1.2,"grid":false,"title":null}},
     "y":{"field":"m","type":"quantitative","title":"D","scale":{"domain":[-1,1],"nice":false,"zero":false},"axis":{"values":[-1,-0.5,0,0.5,1],"tickCount":20,"labelOverlap":false,"labelExpr":"replace(format(datum.value,'.1f'),'\u2212','-')","labelFontSize":8.5,"labelFontWeight":"bold","labelColor":"#111","labelPadding":1.5,"tickSize":4,"tickWidth":1.2,"tickColor":"#222","domainColor":"#222","domainWidth":1.2,"grid":false,"title":"D","titleAngle":0,"titleX":-26,"titleY":-38,"titleFontSize":18,"titleFontWeight":"bold","titleColor":"#000","titleAlign":"center","titleBaseline":"middle"}},
     "y2":{"datum":0},
     "stroke":{"field":"g","type":"nominal","scale":{"domain":["Media","A549"],"range":["#262626","#cc4a4a"]},"legend":null}}},
   {"data":{"name":"bars"},"transform":[{"filter":{"field":"p","equal":"D1"}}],"mark":{"type":"rule","color":"#222","strokeWidth":1},"encoding":{"y":{"datum":0}}},
   {"data":{"name":"bars"},"transform":[{"filter":{"field":"p","equal":"D1"}}],"mark":{"type":"errorbar","ticks":true,"size":10,"thickness":1.2},
    "encoding":{"x":{"field":"c","type":"nominal"},"y":{"field":"lo","type":"quantitative","title":"D"},"y2":{"field":"hi"},"color":{"field":"g","type":"nominal","scale":{"domain":["Media","A549"],"range":["#111111","#b01c1c"]},"legend":null}}},
   {"data":{"name":"pts"},"transform":[{"filter":{"field":"p","equal":"D1"}}],"mark":{"type":"point","filled":true,"size":22,"opacity":1},
    "encoding":{"x":{"field":"c","type":"nominal"},"xOffset":{"field":"d","type":"quantitative","scale":{"domain":[-1.2,1.2]}},"y":{"field":"v","type":"quantitative","title":"D"},"color":{"field":"g","type":"nominal","legend":null},"shape":{"field":"c","type":"nominal","scale":{"domain":["Media E1","Media E2","A549 E2","A549 E1"],"range":["circle","triangle-up","triangle-down","square"]},"legend":null}}}
  ]},
  {"data":{"name":"grp"},"mark":{"type":"point","opacity":0},"encoding":{"x":{"field":"g","type":"nominal","scale":{"type":"point","domain":["Media","A549"],"padding":0.668},"axis":{"orient":"bottom","offset":19,"domain":false,"tickSize":3,"tickWidth":33,"tickColor":"#111","labelAngle":0,"labelFontSize":10.5,"labelColor":"#222","labelPadding":1,"grid":false,"title":null}}}}
 ],
 "resolve":{"scale":{"x":"independent"}}},
{"width":152,"height":125,"title":{"text":"Benzaldehyde","fontSize":12,"fontWeight":"bold","color":"#111","frame":"group","offset":8},
 "layer":[
  {"layer":[
   {"data":{"name":"bars"},"transform":[{"filter":{"field":"p","equal":"D2"}}],"mark":{"type":"bar","fill":"#ffffff","strokeWidth":1.2},
    "encoding":{
     "x":{"field":"c","type":"nominal","scale":{"domain":["Media E1","Media E2","A549 E2","A549 E1"],"paddingInner":0.33,"paddingOuter":0.5},"axis":{"labelExpr":"split(datum.value,' ')[1]","labelAngle":0,"labelFontSize":10,"labelFontWeight":"bold","labelColor":"#111","labelPadding":1,"tickSize":4,"tickWidth":1.2,"tickColor":"#222","domainColor":"#222","domainWidth":1.2,"grid":false,"title":null}},
     "y":{"field":"m","type":"quantitative","title":null,"scale":{"domain":[-0.4,0.6],"nice":false,"zero":false},"axis":{"values":[-0.4,-0.2,0,0.2,0.4,0.6],"tickCount":20,"labelOverlap":false,"labelExpr":"replace(format(datum.value,'.1f'),'\u2212','-')","labelFontSize":8.5,"labelFontWeight":"bold","labelColor":"#111","labelPadding":1.5,"tickSize":4,"tickWidth":1.2,"tickColor":"#222","domainColor":"#222","domainWidth":1.2,"grid":false,"title":null}},
     "y2":{"datum":0},
     "stroke":{"field":"g","type":"nominal","scale":{"domain":["Media","A549"],"range":["#262626","#cc4a4a"]},"legend":null}}},
   {"data":{"name":"bars"},"transform":[{"filter":{"field":"p","equal":"D2"}}],"mark":{"type":"rule","color":"#222","strokeWidth":1},"encoding":{"y":{"datum":0}}},
   {"data":{"name":"bars"},"transform":[{"filter":{"field":"p","equal":"D2"}}],"mark":{"type":"errorbar","ticks":true,"size":10,"thickness":1.2},
    "encoding":{"x":{"field":"c","type":"nominal"},"y":{"field":"lo","type":"quantitative","title":null},"y2":{"field":"hi"},"color":{"field":"g","type":"nominal","scale":{"domain":["Media","A549"],"range":["#111111","#b01c1c"]},"legend":null}}},
   {"data":{"name":"pts"},"transform":[{"filter":{"field":"p","equal":"D2"}}],"mark":{"type":"point","filled":true,"size":22,"opacity":1},
    "encoding":{"x":{"field":"c","type":"nominal"},"xOffset":{"field":"d","type":"quantitative","scale":{"domain":[-1.2,1.2]}},"y":{"field":"v","type":"quantitative","title":null},"color":{"field":"g","type":"nominal","legend":null},"shape":{"field":"c","type":"nominal","scale":{"domain":["Media E1","Media E2","A549 E2","A549 E1"],"range":["circle","triangle-up","triangle-down","square"]},"legend":null}}}
  ]},
  {"data":{"name":"grp"},"mark":{"type":"point","opacity":0},"encoding":{"x":{"field":"g","type":"nominal","scale":{"type":"point","domain":["Media","A549"],"padding":0.668},"axis":{"orient":"bottom","offset":19,"domain":false,"tickSize":3,"tickWidth":33,"tickColor":"#111","labelAngle":0,"labelFontSize":10.5,"labelColor":"#222","labelPadding":1,"grid":false,"title":null}}}}
 ],
 "resolve":{"scale":{"x":"independent"}}},
{"width":152,"height":125,"title":{"text":"4-Quinolinecarboxaldehyde","fontSize":12,"fontWeight":"bold","color":"#111","frame":"group","offset":8},
 "layer":[
  {"layer":[
   {"data":{"name":"bars"},"transform":[{"filter":{"field":"p","equal":"D3"}}],"mark":{"type":"bar","fill":"#ffffff","strokeWidth":1.2},
    "encoding":{
     "x":{"field":"c","type":"nominal","scale":{"domain":["Media E1","Media E2","A549 E2","A549 E1"],"paddingInner":0.33,"paddingOuter":0.5},"axis":{"labelExpr":"split(datum.value,' ')[1]","labelAngle":0,"labelFontSize":10,"labelFontWeight":"bold","labelColor":"#111","labelPadding":1,"tickSize":4,"tickWidth":1.2,"tickColor":"#222","domainColor":"#222","domainWidth":1.2,"grid":false,"title":null}},
     "y":{"field":"m","type":"quantitative","title":null,"scale":{"domain":[-3,2],"nice":false,"zero":false},"axis":{"values":[-3,-2,-1,0,1,2],"tickCount":20,"labelOverlap":false,"labelExpr":"replace(format(datum.value,'.0f'),'\u2212','-')","labelFontSize":8.5,"labelFontWeight":"bold","labelColor":"#111","labelPadding":1.5,"tickSize":4,"tickWidth":1.2,"tickColor":"#222","domainColor":"#222","domainWidth":1.2,"grid":false,"title":null}},
     "y2":{"datum":0},
     "stroke":{"field":"g","type":"nominal","scale":{"domain":["Media","A549"],"range":["#262626","#cc4a4a"]},"legend":null}}},
   {"data":{"name":"bars"},"transform":[{"filter":{"field":"p","equal":"D3"}}],"mark":{"type":"rule","color":"#222","strokeWidth":1},"encoding":{"y":{"datum":0}}},
   {"data":{"name":"bars"},"transform":[{"filter":{"field":"p","equal":"D3"}}],"mark":{"type":"errorbar","ticks":true,"size":10,"thickness":1.2},
    "encoding":{"x":{"field":"c","type":"nominal"},"y":{"field":"lo","type":"quantitative","title":null},"y2":{"field":"hi"},"color":{"field":"g","type":"nominal","scale":{"domain":["Media","A549"],"range":["#111111","#b01c1c"]},"legend":null}}},
   {"data":{"name":"pts"},"transform":[{"filter":{"field":"p","equal":"D3"}}],"mark":{"type":"point","filled":true,"size":22,"opacity":1},
    "encoding":{"x":{"field":"c","type":"nominal"},"xOffset":{"field":"d","type":"quantitative","scale":{"domain":[-1.2,1.2]}},"y":{"field":"v","type":"quantitative","title":null},"color":{"field":"g","type":"nominal","legend":null},"shape":{"field":"c","type":"nominal","scale":{"domain":["Media E1","Media E2","A549 E2","A549 E1"],"range":["circle","triangle-up","triangle-down","square"]},"legend":null}}}
  ]},
  {"data":{"name":"grp"},"mark":{"type":"point","opacity":0},"encoding":{"x":{"field":"g","type":"nominal","scale":{"type":"point","domain":["Media","A549"],"padding":0.668},"axis":{"orient":"bottom","offset":19,"domain":false,"tickSize":3,"tickWidth":33,"tickColor":"#111","labelAngle":0,"labelFontSize":10.5,"labelColor":"#222","labelPadding":1,"grid":false,"title":null}}}}
 ],
 "resolve":{"scale":{"x":"independent"}}},
{"width":152,"height":125,"title":{"text":"Benzaldehyde, 4-methyl-","fontSize":12,"fontWeight":"bold","color":"#111","frame":"group","offset":-273},
 "layer":[
  {"layer":[
   {"data":{"name":"bars"},"transform":[{"filter":{"field":"p","equal":"D4"}}],"mark":{"type":"bar","fill":"#ffffff","strokeWidth":1.2},
    "encoding":{
     "x":{"field":"c","type":"nominal","scale":{"domain":["Media E1","Media E2","A549 E2","A549 E1"],"paddingInner":0.33,"paddingOuter":0.5},"axis":{"labelExpr":"split(datum.value,' ')[1]","labelAngle":0,"labelFontSize":10,"labelFontWeight":"bold","labelColor":"#111","labelPadding":1,"tickSize":4,"tickWidth":1.2,"tickColor":"#222","domainColor":"#222","domainWidth":1.2,"grid":false,"title":null}},
     "y":{"field":"m","type":"quantitative","title":"Peak intensity Z-score","scale":{"domain":[-0.5,1],"nice":false,"zero":false},"axis":{"values":[-0.5,0,0.5,1],"tickCount":20,"labelOverlap":false,"labelExpr":"replace(format(datum.value,'.1f'),'\u2212','-')","labelFontSize":8.5,"labelFontWeight":"bold","labelColor":"#111","labelPadding":1.5,"tickSize":4,"tickWidth":1.2,"tickColor":"#222","domainColor":"#222","domainWidth":1.2,"grid":false,"title":"Peak intensity Z-score","titleAngle":-90,"titleX":-62,"titleY":-230,"titleFontSize":11,"titleFontWeight":"normal","titleColor":"#222","titleAlign":"center","titleBaseline":"middle"}},
     "y2":{"datum":0},
     "stroke":{"field":"g","type":"nominal","scale":{"domain":["Media","A549"],"range":["#262626","#cc4a4a"]},"legend":null}}},
   {"data":{"name":"bars"},"transform":[{"filter":{"field":"p","equal":"D4"}}],"mark":{"type":"rule","color":"#222","strokeWidth":1},"encoding":{"y":{"datum":0}}},
   {"data":{"name":"bars"},"transform":[{"filter":{"field":"p","equal":"D4"}}],"mark":{"type":"errorbar","ticks":true,"size":10,"thickness":1.2},
    "encoding":{"x":{"field":"c","type":"nominal"},"y":{"field":"lo","type":"quantitative","title":"Peak intensity Z-score"},"y2":{"field":"hi"},"color":{"field":"g","type":"nominal","scale":{"domain":["Media","A549"],"range":["#111111","#b01c1c"]},"legend":null}}},
   {"data":{"name":"pts"},"transform":[{"filter":{"field":"p","equal":"D4"}}],"mark":{"type":"point","filled":true,"size":22,"opacity":1},
    "encoding":{"x":{"field":"c","type":"nominal"},"xOffset":{"field":"d","type":"quantitative","scale":{"domain":[-1.2,1.2]}},"y":{"field":"v","type":"quantitative","title":"Peak intensity Z-score"},"color":{"field":"g","type":"nominal","legend":null},"shape":{"field":"c","type":"nominal","scale":{"domain":["Media E1","Media E2","A549 E2","A549 E1"],"range":["circle","triangle-up","triangle-down","square"]},"legend":null}}}
  ]},
  {"data":{"name":"grp"},"mark":{"type":"point","opacity":0},"encoding":{"x":{"field":"g","type":"nominal","scale":{"type":"point","domain":["Media","A549"],"padding":0.668},"axis":{"orient":"bottom","offset":19,"domain":false,"tickSize":3,"tickWidth":33,"tickColor":"#111","labelAngle":0,"labelFontSize":10.5,"labelColor":"#222","labelPadding":1,"grid":false,"title":null}}}}
 ],
 "resolve":{"scale":{"x":"independent"}}}
],"columns":3,"spacing":{"row":90,"column":77},"bounds":"flush"}
]
}
